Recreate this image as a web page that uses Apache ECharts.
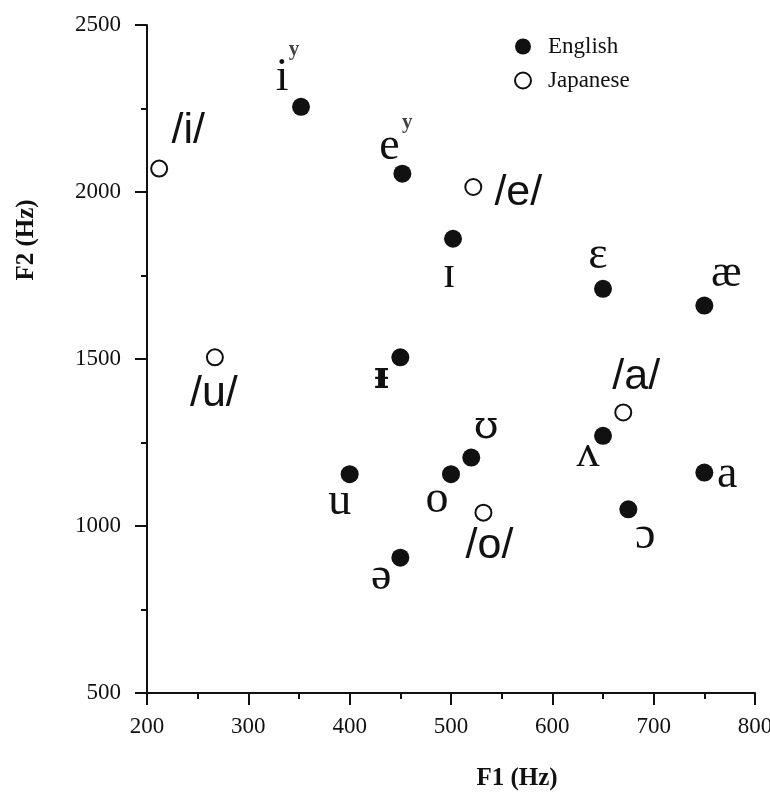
<!DOCTYPE html>
<html>
<head>
<meta charset="utf-8">
<script src="https://cdn.jsdelivr.net/npm/echarts@6/dist/echarts.min.js"></script>
<style>html,body{margin:0;padding:0;background:#fff}#c{width:770px;height:792px}</style>
</head>
<body>
<div id="c"></div>
<script>
// ---- data ----
var englishNames = ['i', 'e', 'ɪ', 'ɛ', 'æ', 'ᵻ', 'ʊ', 'o', 'u', 'ʌ', 'a', 'ɔ', 'ə'];
var englishSup   = ['y', 'y', '', '', '', '', '', '', '', '', '', '', ''];
var englishF1    = [352, 452, 502, 650, 750, 450, 520, 500, 400, 650, 750, 675, 450];
var englishF2    = [2255, 2055, 1860, 1710, 1660, 1505, 1205, 1155, 1155, 1270, 1160, 1050, 905];

var japaneseNames = ['/i/', '/e/', '/u/', '/a/', '/o/'];
var japaneseF1    = [212, 522, 267, 670, 532];
var japaneseF2    = [2070, 2015, 1505, 1340, 1040];

var xTicks = [200, 300, 400, 500, 600, 700, 800];
var yTicks = [500, 1000, 1500, 2000, 2500];

// ---- label placement (pixels, relative to the marker) ----
var englishLabelOffsets = [[-19,-29],[-13,-27],[-4,36],[-5,-33],[22,-32],[-19,20],[15,-30],[-14,26],[-10,28],[-15,18],[23,2],[17,27],[-19,19]];
var englishSupOffsets   = [[-7,-57],[5,-51]];
var japaneseLabelOffsets = [[29,-37],[45,6],[-1,37],[13,-35],[6,34]];

var serif = '"Liberation Serif", "DejaVu Serif", serif';
var sans = '"Liberation Sans", Arial, sans-serif';

var englishData = englishF1.map(function (x, i) {
  var lab = { offset: englishLabelOffsets[i] };
  if (englishNames[i] === 'ᵻ') { lab.fontSize = 40; lab.fontWeight = 'bold'; lab.fontFamily = '"DejaVu Serif", serif'; }
  if (englishNames[i] === 'ʊ') { lab.fontFamily = '"DejaVu Serif", serif'; lab.fontSize = 40; }
  return { name: englishNames[i], value: [x, englishF2[i]], label: lab };
});
var japaneseData = japaneseF1.map(function (x, i) {
  return { name: japaneseNames[i], value: [x, japaneseF2[i]],
           label: { offset: japaneseLabelOffsets[i] } };
});
var supData = [];
var k = 0;
englishSup.forEach(function (s, i) {
  if (s) {
    supData.push({ name: s, value: [englishF1[i], englishF2[i]], label: { offset: englishSupOffsets[k] } });
    k++;
  }
});

var chart = echarts.init(document.getElementById('c'), null, { renderer: 'canvas' });
chart.setOption({
  animation: false,
  backgroundColor: '#fff',
  grid: { left: 147, right: 15, top: 25, bottom: 99, containLabel: false, outerBoundsMode: 'none' },
  legend: {
    data: ['English', 'Japanese'],
    orient: 'vertical',
    left: 509, top: 30,
    itemWidth: 16, itemHeight: 16, itemGap: 11,
    textStyle: { fontFamily: serif, fontSize: 23, color: '#111', padding: [0, 0, 0, 12] }
  },
  xAxis: {
    type: 'value', min: xTicks[0], max: xTicks[xTicks.length - 1], interval: 100,
    name: 'F1 (Hz)', nameLocation: 'middle', nameGap: 73,
    nameTextStyle: { fontFamily: serif, fontSize: 25, fontWeight: 'bold', color: '#111', padding: [0, 0, 0, 132] },
    axisLine: { lineStyle: { color: '#111', width: 2 } },
    axisTick: { length: 12, lineStyle: { color: '#111', width: 2 } },
    minorTick: { show: true, splitNumber: 2, length: 6, lineStyle: { color: '#111', width: 2 } },
    splitLine: { show: false },
    axisLabel: { margin: 22, fontFamily: serif, fontSize: 23, color: '#111', formatter: function (v) { return String(v); } }
  },
  yAxis: {
    type: 'value', min: yTicks[0], max: yTicks[yTicks.length - 1], interval: 500,
    name: 'F2 (Hz)', nameLocation: 'middle', nameGap: 108,
    nameTextStyle: { fontFamily: serif, fontSize: 25, fontWeight: 'bold', color: '#111', padding: [0, 0, 0, 238] },
    axisLine: { lineStyle: { color: '#111', width: 2 } },
    axisTick: { length: 12, lineStyle: { color: '#111', width: 2 } },
    minorTick: { show: true, splitNumber: 2, length: 6, lineStyle: { color: '#111', width: 2 } },
    splitLine: { show: false },
    axisLabel: { margin: 26, fontFamily: serif, fontSize: 23, color: '#111', formatter: function (v) { return String(v); } }
  },
  series: [
    {
      name: 'English', type: 'scatter', symbol: 'circle', symbolSize: 18,
      itemStyle: { color: '#111', opacity: 1 },
      label: { show: true, position: 'inside', formatter: '{b}', fontFamily: serif, fontSize: 46, color: '#111' },
      data: englishData
    },
    {
      name: 'Japanese', type: 'scatter', symbol: 'emptyCircle', symbolSize: 16,
      itemStyle: { color: '#111', borderColor: '#111', borderWidth: 1.8, opacity: 1 },
      label: { show: true, position: 'inside', formatter: '{b}', fontFamily: sans, fontSize: 43, color: '#111' },
      data: japaneseData
    },
    {
      name: 'sup', type: 'scatter', symbolSize: 0, silent: true,
      label: { show: true, position: 'inside', formatter: '{b}', fontFamily: serif, fontSize: 21, fontWeight: 'bold', color: '#111' },
      data: supData
    }
  ]
});
</script>
</body>
</html>
